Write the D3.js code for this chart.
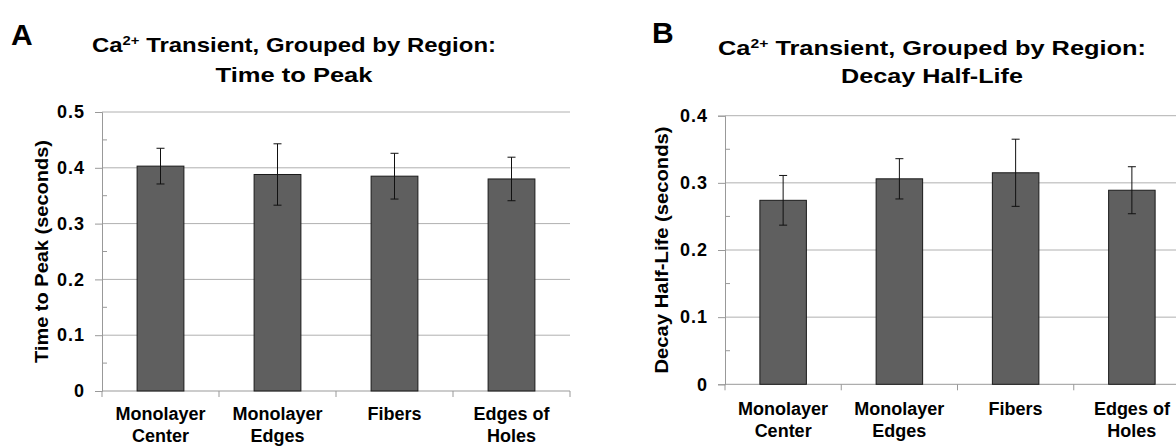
<!DOCTYPE html>
<html lang="en">
<meta charset="utf-8">
<head>
<script src="https://d3js.org/d3.v7.min.js"></script>
<style>
  body { margin: 0; background: #fff; }
  svg { font-family: "Liberation Sans", Arial, sans-serif; font-weight: bold; }
</style>
</head>
<body>
<svg id="fig" width="1176" height="447"></svg>

<script>
// categories and values
var categories = [["Monolayer", "Center"], ["Monolayer", "Edges"], ["Fibers"], ["Edges of", "Holes"]];
var peakMean = [0.403, 0.388, 0.385, 0.380];
var peakErr  = [0.032, 0.055, 0.041, 0.039];
var halfMean = [0.274, 0.306, 0.315, 0.289];
var halfErr  = [0.037, 0.030, 0.050, 0.035];

var svg = d3.select("svg#fig");

function drawPanel(o) {
  var g = svg.append("g");

  var x = d3.scaleBand()
    .domain(d3.range(categories.length))
    .range([o.left, o.right])
    .paddingInner(0.6)
    .paddingOuter(0.3);

  var y = d3.scaleLinear()
    .domain([0, o.max])
    .range([o.bottom, o.top]);

  var majors = d3.range(0, o.max + 0.001, 0.1);
  var minors = d3.range(0.05, o.max, 0.1);

  // gridlines
  g.selectAll(".grid")
    .data(majors.filter(function(d) { return d > 0; }))
    .enter().append("line")
      .attr("x1", o.left).attr("x2", o.right)
      .attr("y1", function(d) { return y(d); })
      .attr("y2", function(d) { return y(d); })
      .attr("stroke", "#b0b0b0");

  // y axis
  var yAxis = g.append("g")
    .attr("transform", "translate(" + o.left + ",0)")
    .call(d3.axisLeft(y)
      .tickValues(majors)
      .tickSize(7)
      .tickPadding(10)
      .tickFormat(function(d) { return d === 0 ? "0" : d3.format(".1f")(d); }));
  yAxis.select(".domain").attr("stroke", "#999");
  yAxis.selectAll(".tick line").attr("stroke", "#999");
  yAxis.selectAll(".tick text")
    .attr("fill", "#000")
    .style("font-size", "18px")
    .style("letter-spacing", "1px")
    .style("font-family", "'Liberation Sans', Arial, sans-serif")
    .style("font-weight", "bold");

  // minor ticks inside the axis
  g.selectAll(".minor")
    .data(minors)
    .enter().append("line")
      .attr("x1", o.left).attr("x2", o.left + 5)
      .attr("y1", function(d) { return y(d); })
      .attr("y2", function(d) { return y(d); })
      .attr("stroke", "#999");

  // x axis line and category separators
  g.append("line")
    .attr("x1", o.left).attr("x2", o.right)
    .attr("y1", y(0)).attr("y2", y(0))
    .attr("stroke", "#999");
  g.selectAll(".sep")
    .data(d3.range(categories.length + 1))
    .enter().append("line")
      .attr("x1", function(i) { return o.left + i * x.step(); })
      .attr("x2", function(i) { return o.left + i * x.step(); })
      .attr("y1", y(0)).attr("y2", y(0) + 6)
      .attr("stroke", "#999");

  // bars
  g.selectAll(".bar")
    .data(o.mean)
    .enter().append("rect")
      .attr("x", function(d, i) { return x(i); })
      .attr("y", function(d) { return y(d); })
      .attr("width", x.bandwidth())
      .attr("height", function(d) { return y(0) - y(d); })
      .attr("fill", "#5f5f5f")
      .attr("stroke", "#1a1a1a");

  // error bars
  var eb = g.selectAll(".err")
    .data(o.mean)
    .enter().append("g")
      .attr("stroke", "#111")
      .attr("transform", function(d, i) { return "translate(" + (x(i) + x.bandwidth() / 2) + ",0)"; });
  eb.append("line")
    .attr("y1", function(d, i) { return y(d + o.err[i]); })
    .attr("y2", function(d, i) { return y(d - o.err[i]); });
  eb.append("line")
    .attr("x1", -4).attr("x2", 4)
    .attr("y1", function(d, i) { return y(d + o.err[i]); })
    .attr("y2", function(d, i) { return y(d + o.err[i]); });
  eb.append("line")
    .attr("x1", -4).attr("x2", 4)
    .attr("y1", function(d, i) { return y(d - o.err[i]); })
    .attr("y2", function(d, i) { return y(d - o.err[i]); });

  // category labels
  var lab = g.selectAll(".cat")
    .data(categories)
    .enter().append("text")
      .attr("text-anchor", "middle")
      .style("font-size", "18px")
      .attr("transform", function(d, i) { return "translate(" + (x(i) + x.bandwidth() / 2) + "," + o.labelY + ")"; });
  lab.selectAll("tspan")
    .data(function(d) { return d; })
    .enter().append("tspan")
      .attr("x", 0)
      .attr("y", function(d, j) { return j * 22; })
      .text(function(d) { return d; });

  // y axis title
  g.append("text")
    .attr("transform", "translate(" + o.yTitleX + "," + ((o.top + o.bottom) / 2) + ") rotate(-90)")
    .attr("text-anchor", "middle")
    .attr("dy", "0.35em")
    .attr("textLength", o.yTitleLen)
    .attr("lengthAdjust", "spacingAndGlyphs")
    .style("font-size", "19px")
    .text(o.yTitle);

  // chart title, two lines
  var t1 = g.append("text")
    .attr("x", o.titleX).attr("y", o.titleY[0])
    .attr("text-anchor", "middle")
    .attr("textLength", o.titleLen[0])
    .attr("lengthAdjust", "spacingAndGlyphs")
    .style("font-size", "21px");
  t1.append("tspan").text("Ca");
  t1.append("tspan").attr("dy", -7).style("font-size", "13px").text("2+");
  t1.append("tspan").attr("dy", 7).text(" Transient, Grouped by Region:");

  g.append("text")
    .attr("x", o.titleX).attr("y", o.titleY[1])
    .attr("text-anchor", "middle")
    .attr("textLength", o.titleLen[1])
    .attr("lengthAdjust", "spacingAndGlyphs")
    .style("font-size", "21px")
    .text(o.subtitle);

  // panel letter
  g.append("text")
    .attr("x", o.letterX).attr("y", o.letterY)
    .style("font-size", "30px")
    .text(o.letter);
}

drawPanel({
  left: 102, right: 570, top: 112, bottom: 391, max: 0.5,
  mean: peakMean, err: peakErr, labelY: 420,
  yTitle: "Time to Peak (seconds)", yTitleX: 41, yTitleLen: 223,
  subtitle: "Time to Peak", titleX: 294, titleY: [52, 82], titleLen: [404, 157],
  letter: "A", letterX: 11, letterY: 45
});

drawPanel({
  left: 725, right: 1190, top: 115.7, bottom: 384.3, max: 0.4,
  mean: halfMean, err: halfErr, labelY: 415,
  yTitle: "Decay Half-Life (seconds)", yTitleX: 661, yTitleLen: 247,
  subtitle: "Decay Half-Life", titleX: 932, titleY: [55, 83], titleLen: [428, 182],
  letter: "B", letterX: 652, letterY: 43
});
</script>
</body>
</html>
